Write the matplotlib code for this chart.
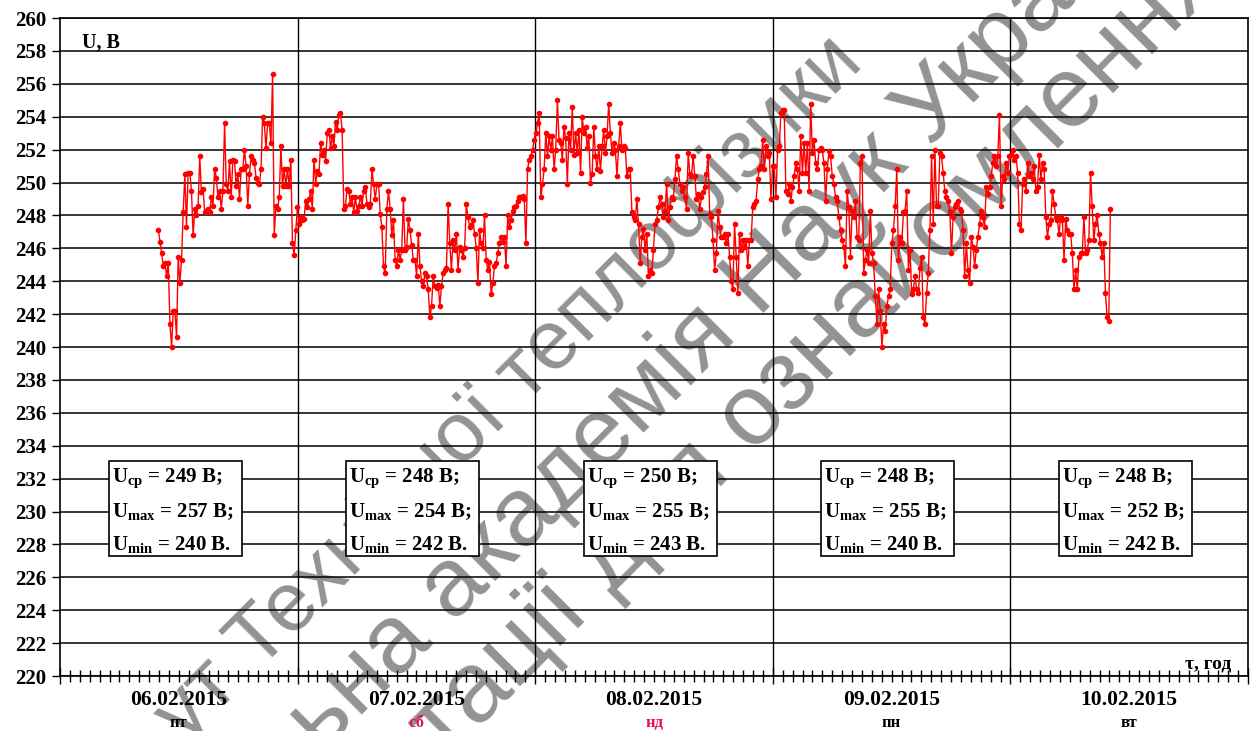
import numpy as np
import matplotlib.pyplot as plt

plt.rcParams['font.family'] = ['Liberation Serif', 'DejaVu Serif']
plt.rcParams['mathtext.fontset'] = 'custom'
plt.rcParams['mathtext.rm'] = 'Liberation Serif:bold'
plt.rcParams['mathtext.bf'] = 'Liberation Serif:bold'
plt.rcParams['mathtext.it'] = 'Liberation Serif:bold:italic'

# voltage readings, 06.02.2015 09:56 .. 10.02.2015 10:06, every ~10 min
u1 = [247.1, 246.4, 245.7, 244.9, 245.1, 244.3, 245.1, 241.4, 240.0, 242.2, 242.2, 240.6, 245.5, 243.9,
      245.3, 248.2, 250.5, 247.3, 250.6, 250.6, 249.5, 246.8, 248.4, 248.0, 248.6, 251.6, 249.4, 249.6,
      248.2, 248.3, 248.4, 248.2, 249.1, 248.6, 250.8, 250.3, 249.1, 249.5, 248.4, 249.5, 253.6, 249.9,
      249.5, 251.3, 249.1, 251.4, 251.3, 249.8, 250.5, 249.0, 250.8, 250.8, 252.0, 251.0, 248.6, 250.5,
      251.6, 251.4, 251.2, 250.3, 250.0, 249.9, 250.8, 254.0, 253.6, 252.1, 253.6, 253.6, 252.4, 256.6,
      246.8, 248.6, 248.4, 249.1, 252.2, 249.8, 250.8, 249.8, 250.8, 249.8, 251.4, 246.3, 245.6, 247.1,
      248.5, 247.5, 247.9, 247.7, 247.8, 248.9, 248.5, 249.0, 249.5, 248.4, 251.4, 249.9, 250.7, 250.5,
      252.4, 251.7, 252.0, 251.3, 253.0, 253.2, 252.1, 252.8, 252.2, 253.7, 253.2, 254.1, 254.2, 253.2,
      248.4, 248.6, 249.6, 249.5, 248.7, 249.1, 248.2, 249.1, 248.3, 248.6, 249.1, 248.6, 249.5, 249.7,
      248.7, 248.5, 248.7, 250.8, 249.9, 249.0, 249.9, 249.9, 248.1, 247.3, 244.9, 244.5, 248.4, 249.5,
      248.4, 246.8, 247.7, 245.3, 244.9, 245.9, 245.3, 245.9, 249.0]
u2 = [245.9, 246.1, 247.8, 247.1, 246.2, 245.3, 245.3, 244.3, 246.9, 244.9, 244.0, 243.7, 244.5, 244.3,
      243.5, 241.8, 242.5, 244.3, 243.7, 243.6, 243.8, 242.5, 243.7, 244.5, 244.7, 244.8, 248.7, 246.3,
      244.7, 246.5, 245.9, 246.9, 244.7, 246.1, 245.9, 245.5, 246.0, 248.7, 247.9, 247.3, 247.4, 247.7,
      246.9, 246.0, 243.9, 247.1, 246.3, 246.0, 248.0, 245.3, 244.7, 245.2, 243.2, 243.9, 244.9, 245.1,
      245.7, 246.3, 246.7, 246.4, 246.7, 244.9, 248.0, 247.3, 247.7, 248.3, 248.5, 248.6, 248.9, 249.1,
      249.1, 249.2, 249.0, 246.3, 250.8, 251.4, 251.6, 252.0, 252.6, 253.0, 253.6, 254.2, 249.1, 249.9,
      250.8, 253.0, 251.6, 252.8, 252.0, 252.8, 250.8, 252.0, 255.0, 252.6, 252.4, 251.4, 253.4, 252.7,
      249.9, 253.0, 252.0, 254.6, 251.7, 253.0, 251.8, 253.2, 250.6, 254.0, 253.0, 253.4, 252.1, 252.8,
      250.0, 250.5, 253.4, 251.6, 250.8, 252.2, 250.7, 252.2, 253.2, 251.8, 252.8, 254.8, 253.0, 251.8,
      252.4, 252.0, 250.4, 252.2, 253.6, 252.0, 252.2, 252.1, 250.4, 250.8, 250.8, 248.2, 247.9, 247.7,
      249.0, 247.5, 245.1, 246.7, 247.2, 245.9, 246.9, 244.3]
u3 = [244.7, 244.5, 245.9, 247.5, 247.7, 248.5, 249.1, 248.7, 247.9, 248.3, 249.9, 247.7, 248.5, 249.1,
      249.0, 250.2, 251.6, 250.8, 249.9, 249.5, 249.7, 249.1, 248.4, 251.8, 250.5, 250.4, 251.6, 250.4,
      249.0, 249.3, 248.4, 249.1, 249.4, 249.7, 250.5, 251.6, 248.1, 247.9, 246.5, 244.7, 245.7, 248.3,
      247.3, 246.7, 246.7, 246.9, 246.3, 246.9, 245.5, 244.0, 243.5, 247.5, 245.5, 243.3, 246.9, 245.9,
      246.5, 246.1, 246.5, 244.9, 246.5, 246.5, 248.5, 248.7, 248.9, 250.2, 250.8, 251.0, 252.6, 250.8,
      252.2, 251.6, 251.8, 249.0, 251.0, 251.0, 249.1, 252.0, 252.2, 254.2, 254.4, 254.4, 249.5, 249.3,
      249.9, 248.9, 249.7, 250.4, 251.2, 250.8, 249.5, 252.8, 250.6, 252.4, 250.6, 252.4, 249.5, 254.8,
      251.8, 252.6, 251.2, 250.8, 252.0, 252.1, 252.0, 251.2, 248.9, 250.8, 251.9, 251.6, 250.4, 249.9,
      249.1, 248.9, 247.9, 247.1, 246.5, 246.1, 244.9, 249.5, 248.5, 245.5, 248.3, 247.9, 248.9, 246.7,
      246.5, 251.2, 251.6, 244.5, 245.3, 245.9, 245.1, 248.3, 245.7, 245.1, 243.1, 241.4, 243.5, 242.2,
      240.0, 241.4, 241.0, 242.5, 243.1, 243.5]
u4 = [246.3, 247.1, 248.6, 250.8, 245.3, 246.7, 246.3, 248.2, 248.3, 249.5, 244.7, 245.9, 243.2, 243.5,
      244.3, 243.5, 243.3, 244.8, 245.5, 241.8, 241.4, 243.3, 244.5, 247.1, 251.6, 247.5, 252.0, 248.6,
      248.6, 251.8, 251.6, 250.6, 249.5, 249.1, 248.9, 248.3, 245.7, 247.9, 248.5, 248.7, 248.9, 248.4,
      248.3, 247.1, 244.3, 246.3, 244.7, 243.9, 246.7, 246.1, 244.9, 245.9, 246.7, 247.5, 248.3, 247.9,
      247.3, 249.7, 249.3, 249.7, 250.4, 251.2, 251.6, 251.0, 251.6, 254.1, 248.6, 250.4, 250.2, 251.2,
      250.6, 251.6, 251.7, 252.0, 251.4, 251.6, 250.6, 247.5, 247.1, 249.9, 250.2, 249.5, 251.2, 250.4,
      250.6, 250.2, 251.0, 249.5, 249.7, 251.7, 250.2, 251.2, 250.8, 247.9, 246.7, 247.5, 247.7, 249.5,
      248.7, 247.9, 247.7, 246.9, 247.9, 247.7, 245.3, 247.8, 247.1, 246.9, 246.9, 245.7, 243.5, 244.7,
      243.5, 245.5, 245.7, 245.7, 247.9, 245.7, 245.9, 246.5, 250.6, 248.6, 246.5, 247.5, 248.0, 246.9,
      246.3, 245.5, 246.3, 243.3, 241.8, 241.6, 248.4]

t_first, t_last = 9.93, 106.1   # hours from 06.02.2015 00:00

days = ['06.02.2015', '07.02.2015', '08.02.2015', '09.02.2015', '10.02.2015']
weekdays = ['пт', 'сб', 'нд', 'пн', 'вт']
weekday_colors = ['black', '#e3125a', '#e3125a', 'black', 'black']
u_avg = [249, 248, 250, 248, 248]
u_max = [257, 254, 255, 255, 252]
u_min = [240, 242, 243, 240, 242]

u = np.array(u1 + u2 + u3 + u4)
t = np.linspace(t_first, t_last, len(u))

fig = plt.figure(figsize=(12.51, 7.31), dpi=100, facecolor='white')
ax = fig.add_axes([0.048, 0.0752, 0.9496, 0.9001])
ax.set_facecolor('none')

ax.plot(t, u, color='red', lw=1.0, marker='o', ms=3, zorder=3)

ax.set_xlim(0, 120)
ax.set_ylim(220, 260)
ax.set_yticks(np.arange(220, 261, 2))
ax.grid(axis='y', color='black', lw=1.1)
for d in range(1, 5):
    ax.axvline(24 * d, color='black', lw=1.0)
ax.set_xticks(np.arange(0, 121, 24))
ax.set_xticks(np.arange(0, 121, 1), minor=True)
ax.tick_params(axis='x', which='major', direction='inout', length=11, width=1.0, labelbottom=False)
ax.tick_params(axis='x', which='minor', direction='inout', length=8, width=1.0)
ax.tick_params(axis='y', direction='out', length=6, width=1.0, pad=4, labelsize=15)
for lab in ax.get_yticklabels():
    lab.set_fontweight('bold')
for s in ax.spines.values():
    s.set_linewidth(1.2)

ax.text(2.2, 258.5, 'U, В', fontsize=14.5, fontweight='bold', va='center')
ax.text(118.3, 220.2, 'τ, год', fontsize=14, fontweight='bold', ha='right', va='bottom')

trans = ax.get_xaxis_transform()
for i, d in enumerate(days):
    ax.text(24 * i + 12, -0.037, d, transform=trans, ha='center', va='center',
            fontsize=15.5, fontweight='bold')
    ax.text(24 * i + 12, -0.072, weekdays[i], transform=trans, ha='center', va='center',
            fontsize=12, fontweight='bold', color=weekday_colors[i])

    # summary box for the day
    x0 = 24 * i + 4.9
    ax.add_patch(plt.Rectangle((x0, 227.3), 13.45, 5.8, facecolor='white',
                               edgecolor='black', lw=1.2, zorder=4))
    rows = [(r'U$_{\mathbf{ср}}$' + f' = {u_avg[i]} В;', 232.0),
            (r'U$_{\mathbf{max}}$' + f' = {u_max[i]} В;', 230.0),
            (r'U$_{\mathbf{min}}$' + f' = {u_min[i]} В.', 228.0)]
    for txt, y in rows:
        ax.text(x0 + 0.3, y, txt, fontsize=15, fontweight='bold', va='center', zorder=5)

# diagonal stamp behind the chart
stamp = [('ут Технічної теплофізики', 185, 745, 60),
         ('ьна академія Наук України', 322, 755, 70),
         ('тації для ознайомлення', 445, 762, 72)]
for txt, px, py, size in stamp:
    fig.text(px / 1251, 1 - py / 731, txt, rotation=45, rotation_mode='anchor',
             ha='left', va='baseline', fontsize=size, family='Liberation Sans',
             color='#6e6e6e', alpha=0.75, zorder=-1)

fig.savefig('out.png', dpi=100, facecolor='white')
